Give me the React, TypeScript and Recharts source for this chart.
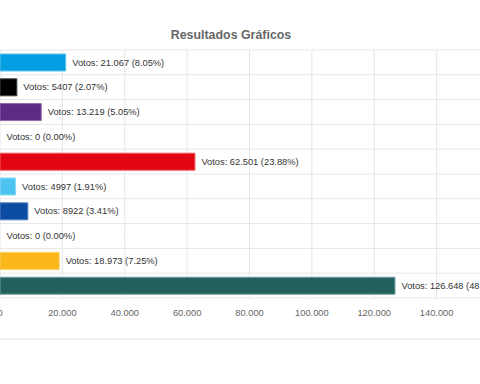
import { BarChart, Bar, XAxis, YAxis, CartesianGrid, Cell, LabelList } from 'recharts';

// category names are off-canvas in the reference, so only placeholders
const parties = ['P1', 'P2', 'P3', 'P4', 'P5', 'P6', 'P7', 'P8', 'P9', 'P10'];
const votes = [21067, 5407, 13219, 0, 62501, 4997, 8922, 0, 18973, 126648];
const percents = [8.05, 2.07, 5.05, 0.0, 23.88, 1.91, 3.41, 0.0, 7.25, 48.39];
const fills = ['#049FE3', '#000000', '#5E2A84', '#999999', '#E20613', '#4CC3F1', '#0B4DA2', '#999999', '#FBB71A', '#23615F'];
const borders = ['#5cc3ee', '#444444', '#8e6aa8', '#bbbbbb', '#ee5a62', '#8ad8f5', '#5a82bf', '#bbbbbb', '#fcd06a', '#6fa09e'];
const xTicks = [0, 20000, 40000, 60000, 80000, 100000, 120000, 140000, 160000];

// es-ES style: no grouping below 10.000
const fmt = (n: number) =>
  n < 10000 ? String(n) : String(n).replace(/\B(?=(\d{3})+(?!\d))/g, '.');

const data = parties.map((name, i) => ({
  name,
  votes: votes[i],
  label: `Votos: ${fmt(votes[i])} (${percents[i].toFixed(2)}%)`,
}));

const FONT = '"Liberation Sans", Arial, sans-serif';

const renderLabel = (props: any) => {
  const { x, y, width, height, value } = props;
  return (
    <text
      x={Number(x) + Number(width) + 6.5}
      y={Number(y) + Number(height) / 2}
      dominantBaseline="central"
      fontSize={9.3}
      fontFamily={FONT}
      fill="#333"
    >
      {value}
    </text>
  );
};

export default function App() {
  return (
    <div
      style={{
        position: 'absolute',
        left: 0,
        top: 0,
        width: 480,
        height: 384,
        overflow: 'hidden',
        background: '#fff',
        fontFamily: FONT,
      }}
    >
      <div
        style={{
          position: 'absolute',
          top: 28,
          left: 0,
          width: 462,
          textAlign: 'center',
          fontSize: 12.4,
          lineHeight: '14px',
          fontWeight: 'bold',
          color: '#666',
        }}
      >
        Resultados Gráficos
      </div>
      <div style={{ position: 'absolute', left: 0, top: 0 }}>
        <BarChart
          width={560}
          height={328}
          data={data}
          layout="vertical"
          margin={{ top: 50, right: 61, bottom: 0, left: 0 }}
          barSize={17}
        >
          <CartesianGrid
            stroke="#e6e6e6"
            horizontalCoordinatesGenerator={({ offset }: any) =>
              Array.from({ length: parties.length + 1 }, (_, i) => offset.top + (i * offset.height) / parties.length)
            }
          />
          <XAxis
            type="number"
            domain={[0, 160000]}
            ticks={xTicks}
            interval={0}
            tickFormatter={fmt}
            axisLine={false}
            tickLine={false}
            tickMargin={5}
            height={30}
            tick={{ fontSize: 9.3, fill: '#666', fontFamily: FONT }}
          />
          <YAxis type="category" dataKey="name" hide width={0} />
          <Bar dataKey="votes" isAnimationActive={false} strokeWidth={1} minPointSize={0.001}>
            {data.map((d, i) => (
              <Cell key={d.name} fill={fills[i]} stroke={votes[i] > 0 ? borders[i] : 'none'} />
            ))}
            <LabelList dataKey="label" content={renderLabel} />
          </Bar>
        </BarChart>
      </div>
      <div
        style={{
          position: 'absolute',
          top: 338,
          left: 0,
          width: 480,
          height: 2,
          background: '#eeeeee',
        }}
      />
    </div>
  );
}
